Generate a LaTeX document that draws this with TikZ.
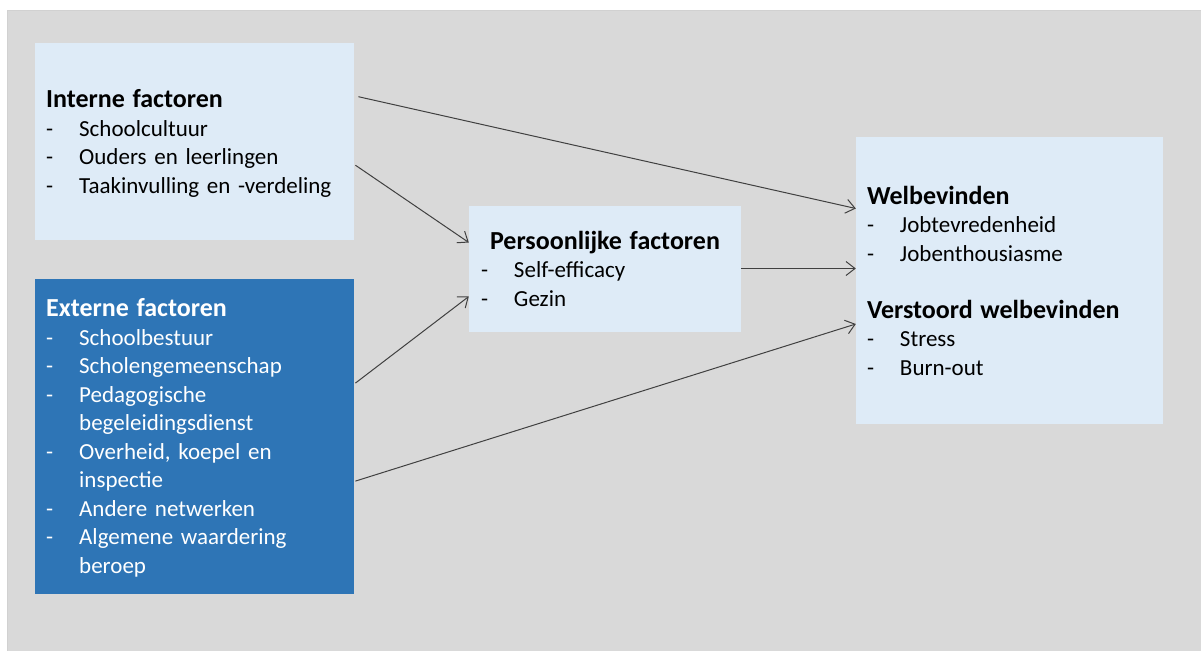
\documentclass[tikz,border=0pt]{standalone}
\usepackage{fontspec}
\setmainfont{Carlito}
\usepackage{tikz}
\usetikzlibrary{arrows.meta,positioning,calc}

\definecolor{lightblue}{HTML}{DEEBF7}
\definecolor{darkblue}{HTML}{2E75B6}
\definecolor{bggrey}{HTML}{D9D9D9}
\definecolor{linegrey}{HTML}{404040}

\newcommand{\itm}[1]{\makebox[33pt][l]{-}#1}
\newcommand{\cnt}[1]{\hspace*{33pt}#1}
\newcommand{\ttl}[1]{{\fontsize{26}{28.5}\selectfont\bfseries #1}}

\begin{document}
\begin{tikzpicture}[x=1pt, y=-1pt,
    box/.style={rectangle, fill=lightblue, inner xsep=11pt, inner ysep=0pt, align=left,
        font=\fontsize{23}{28.5}\selectfont},
    darkbox/.style={box, fill=darkblue, text=white},
    arrow/.style={-{Straight Barb[length=9pt, width=14pt]}, line width=1pt, draw=linegrey}
]
\useasboundingbox[fill=white] (0,0) rectangle (1201,650);
\draw[fill=bggrey, draw=black!18] (7,10) rectangle (1204,653);

\node[box, anchor=north west, text width=297pt, minimum height=197pt] (intern) at (35,43) {%
\ttl{Interne factoren}\\
\itm{Schoolcultuur}\\
\itm{Ouders en leerlingen}\\
\itm{\smash{Taakinvulling en -verdeling}}};

\node[darkbox, below=38pt of intern, text width=297pt, minimum height=315pt] (extern) {%
\ttl{Externe factoren}\\
\itm{Schoolbestuur}\\
\itm{Scholengemeenschap}\\
\itm{Pedagogische}\\
\cnt{begeleidingsdienst}\\
\itm{Overheid, koepel en}\\
\cnt{inspectie}\\
\itm{Andere netwerken}\\
\itm{Algemene waardering}\\
\cnt{\smash{beroep}}};

\node[box, inner xsep=12pt, text width=248pt, minimum height=126pt] (persoon) at (605,268.5) {%
\makebox[248pt]{\ttl{Persoonlijke factoren}}\\
\itm{Self-efficacy}\\
\itm{Gezin}};

\node[box, text width=285pt, minimum height=287pt] (welzijn) at (1009.5,280.5) {%
\ttl{Welbevinden}\\
\itm{Jobtevredenheid}\\
\itm{Jobenthousiasme}\\[28.5pt]
\ttl{Verstoord welbevinden}\\
\itm{Stress}\\
\itm{Burn-out}};

\draw[arrow] ([xshift=4pt, yshift=45pt]intern.east) -- ([yshift=72pt]welzijn.west);
\draw[arrow] ([xshift=1pt, yshift=-23.5pt]intern.east) -- ([yshift=26pt]persoon.west);
\draw[arrow] ([xshift=1pt, yshift=53pt]extern.east) -- ([yshift=-28pt]persoon.west);
\draw[arrow] ([xshift=1pt, yshift=-45pt]extern.east) -- ([yshift=-43.5pt]welzijn.west);
\draw[arrow] (persoon.east) -- ([yshift=12pt]welzijn.west);
\end{tikzpicture}
\end{document}
